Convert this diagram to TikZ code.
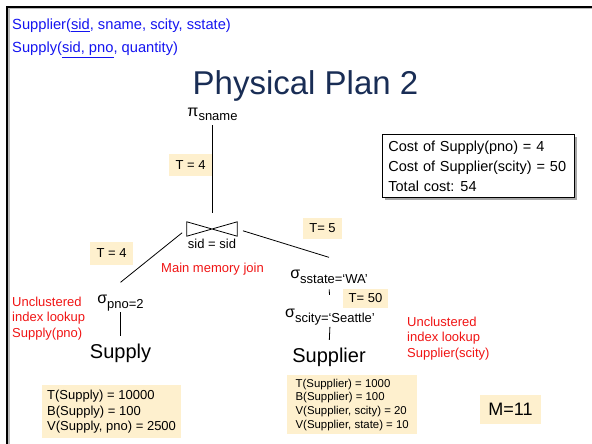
\documentclass[tikz,border=0pt]{standalone}
\usepackage{fontspec}
\setmainfont{Liberation Sans}
\usetikzlibrary{calc,shadows}
\definecolor{boxfill}{RGB}{254,240,206}
\definecolor{titleblue}{RGB}{25,45,85}
\definecolor{hdrblue}{RGB}{20,20,240}
\definecolor{notered}{RGB}{240,20,20}
\newcommand{\fsz}[2]{\fontsize{#1}{#2}\selectfont}
\newcommand{\relop}[2]{{\fsz{16}{16}#1}\raisebox{-5pt}{\fsz{13}{13}#2}}
\tikzset{
  txt/.style={inner sep=0pt},
  tbox/.style={fill=boxfill, inner sep=0pt, font=\fsz{13}{15}},
  note/.style={inner sep=0pt, text=notered, align=left, font=\fsz{13}{15.5}},
  stats/.style={fill=boxfill, align=left, anchor=north west}
}

\begin{document}
\begin{tikzpicture}[x=1pt,y=-1pt]
                \useasboundingbox (0,0) rectangle (592,444);
                \draw[line width=2pt, gray!55] (8.5,444) -- (8.5,8.5) -- (592,8.5);
                \draw[line width=2pt] (7,444) -- (7,7) -- (592,7);
                \node[txt, anchor=base west, text=hdrblue, font=\fsz{14.7}{20}] (hdrA) at (12,29.5) {Supplier(\underline{sid}, sname, scity, sstate)};
                \node[txt, anchor=base west, text=hdrblue, font=\fsz{14.7}{20}] (hdrB) at (12,53) {Supply(\underline{sid, pno}, quantity)};
                \node[txt, anchor=base, text=titleblue, font=\fsz{33}{33}] (title) at (305.5,95) {Physical Plan 2};

                \node[txt, anchor=base] (proj) at (212.5,116) {\relop{π}{sname}};
                \node[minimum width=50pt, minimum height=14pt, inner sep=0pt] (join) at (212,229) {};
                \draw[line width=.8pt] (join.north west) -- (join.south east) -- (join.north east) -- (join.south west) -- cycle;
                \node[txt, anchor=base, font=\fsz{13}{13}] (cond) at (212,248) {sid = sid};
                \node[txt, anchor=base, text=notered, font=\fsz{13}{13}] (mmjoin) at (212.5,272) {Main memory join};

                \node[txt, anchor=base] (selpno) at (120.5,303) {\relop{σ}{pno=2}};
                \node[txt, anchor=base, font=\fsz{20}{20}] (supply) at (120.5,358) {Supply};
                \node[txt, anchor=base] (selstate) at (329,278) {\relop{σ}{sstate=‘WA’}};
                \node[txt, anchor=base] (selcity) at (330,317) {\relop{σ}{scity=‘Seattle’}};
                \node[txt, anchor=base, font=\fsz{20}{20}] (supplier) at (329,362) {Supplier};

                \draw[line width=.8pt, shorten <=4pt, shorten >=9pt] (proj.south) -- (proj.south |- join.north);
                \draw[line width=.8pt, shorten <=6pt] (join.west) -- ($(selpno.north)+(0,-12)$);
                \draw[line width=.8pt, shorten <=6pt] (join.east) -- ($(selstate.north)+(0,-12)$);
                \draw[line width=.8pt, shorten <=1.5pt, shorten >=7.5pt] (selpno.south) -- (supply.north);
                \draw[line width=.8pt, shorten <=6pt, shorten >=13.5pt] (selstate.south) -- (selcity.north);
                \draw[line width=.8pt, shorten <=2pt, shorten >=7.5pt] (selcity.south) -- (supplier.north);

                \node[tbox, minimum width=43pt, minimum height=22pt] (tproj) at (190.5,165) {T = 4};
                \node[tbox, minimum width=43pt, minimum height=23pt] (tpno) at (111.5,253) {T = 4};
                \node[tbox, minimum width=39pt, minimum height=21pt] (tjoin) at (322.5,228.5) {T= 5};
                \node[tbox, minimum width=45pt, minimum height=19pt] (tcity) at (365.5,298.5) {T= 50};

                \node[note, anchor=base west] (lookA) at (12,337) {Unclustered\\index lookup\\Supply(pno)};
                \node[note, anchor=base west] (lookB) at (407,357) {Unclustered\\index lookup\\Supplier(scity)};

                \node[draw, fill=white, line width=.8pt, drop shadow={shadow xshift=2.5pt, shadow yshift=-2.5pt, fill=gray!70, opacity=1},
                      align=left, anchor=north west, font=\fsz{14.5}{20}, inner xsep=6pt, inner ysep=0pt,
                      text width=180pt, minimum height=63pt] (cost) at (382,134)
                      {Cost of Supply(pno) = 4\\Cost of Supplier(scity) = 50\\Total cost:\hspace{6pt}54};
                \node[stats, font=\fsz{13}{15.5}, inner xsep=5pt, inner ysep=0pt, minimum width=116pt, minimum height=53pt] (statsA) at (42,385)
                      {T(Supply) = 10000\\B(Supply) = 100\\V(Supply, pno) = 2500};
                \node[stats, font=\fsz{11.4}{13.7}, inner xsep=7pt, inner ysep=0pt, minimum width=130pt, minimum height=59pt] (statsB) at (287,375)
                      {T(Supplier) = 1000\\B(Supplier) = 100\\V(Supplier, scity) = 20\\V(Supplier, state) = 10};
                \node[tbox, font=\fsz{18}{18}, minimum width=61pt, minimum height=29pt] (mem) at (510.5,409.5) {M=11};
            \end{tikzpicture}
\end{document}
